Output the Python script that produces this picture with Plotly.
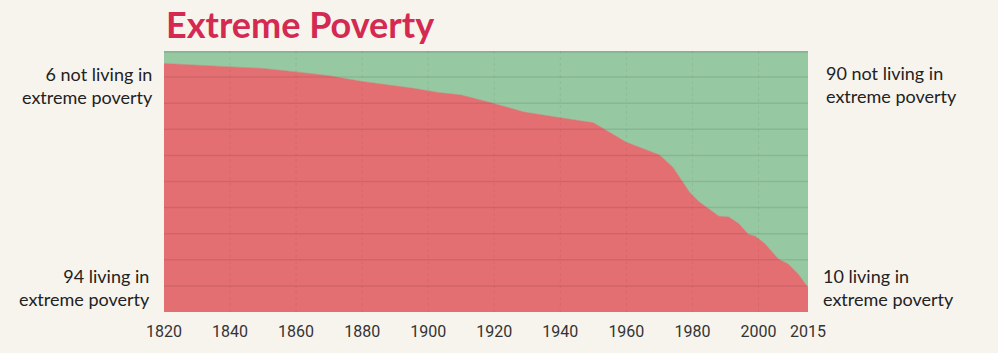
import plotly.graph_objects as go

# Share of world population living in extreme poverty (%)
years = [1820, 1840, 1850, 1860, 1870, 1880, 1896, 1903, 1910, 1919, 1929, 1939,
         1950, 1960, 1970, 1974, 1979, 1982, 1988, 1991, 1994, 1997, 1999, 2002,
         2006, 2009, 2012, 2015]
poverty = [95.2, 94.1, 93.3, 92.0, 90.5, 88.3, 85.6, 84.1, 83.1, 80.2, 76.6, 74.6,
           72.5, 65.0, 60.2, 55.6, 46.1, 42.2, 36.7, 36.4, 33.9, 29.7, 29.0, 26.1,
           20.3, 18.4, 14.6, 9.4]
not_poverty = [round(100 - v, 1) for v in poverty]

tick_years = [1820, 1840, 1860, 1880, 1900, 1920, 1940, 1960, 1980, 2000, 2015]
tick_text = [str(y) for y in tick_years]
grid_values = [10, 20, 30, 40, 50, 60, 70, 80, 90]
vgrid_years = [1840, 1860, 1880, 1900, 1920, 1940, 1960, 1980, 2000]

title_text = "Extreme Poverty"
label_top_left = "6 not living in<br>extreme poverty"
label_bottom_left = "94 living in<br>extreme poverty"
label_top_right = "90 not living in<br>extreme poverty"
label_bottom_right = "10 living in<br>extreme poverty"

RED = "#e46f72"
GREEN = "#96c8a1"
GREEN_TOP = "#86b390"
BG = "#f7f4ee"

fig = go.Figure()
fig.add_trace(go.Scatter(
    x=years, y=poverty, stackgroup="one", mode="lines",
    line=dict(width=0.5, color=RED), fillcolor=RED, hoverinfo="x+y",
    name="living in extreme poverty"))
fig.add_trace(go.Scatter(
    x=years, y=not_poverty, stackgroup="one", mode="lines",
    line=dict(width=3.5, color=GREEN_TOP), fillcolor=GREEN, hoverinfo="x+y",
    name="not living in extreme poverty"))

shapes = []
for g in grid_values:
    shapes.append(dict(type="line", xref="paper", yref="y", x0=0, x1=1, y0=g, y1=g,
                       line=dict(color="rgba(0,0,0,0.085)", width=1.5), layer="above"))
for vy in vgrid_years:
    shapes.append(dict(type="line", xref="x", yref="paper", x0=vy, x1=vy, y0=0, y1=1,
                       line=dict(color="rgba(0,0,0,0.06)", width=1, dash="dot"), layer="above"))

side_font = dict(family="Lato, 'Noto Sans', sans-serif", size=18, color="#222")
annotations = [
    dict(text=title_text, xref="paper", yref="paper", x=0, y=1.103, xanchor="left",
         yanchor="middle", showarrow=False,
         font=dict(family="Lato, 'Noto Sans', sans-serif", size=36, color="#d42a52", weight=700)),
    dict(text=label_top_left, xref="paper", yref="paper", x=0, xshift=-9, y=0.866,
         xanchor="right", yanchor="middle", align="right", showarrow=False, font=side_font),
    dict(text=label_bottom_left, xref="paper", yref="paper", x=0, xshift=-12, y=0.094,
         xanchor="right", yanchor="middle", align="right", showarrow=False, font=side_font),
    dict(text=label_top_right, xref="paper", yref="paper", x=1, xshift=16, y=0.872,
         xanchor="left", yanchor="middle", align="left", showarrow=False, font=side_font),
    dict(text=label_bottom_right, xref="paper", yref="paper", x=1, xshift=13, y=0.094,
         xanchor="left", yanchor="middle", align="left", showarrow=False, font=side_font),
]

fig.update_layout(
    width=998, height=353,
    margin=dict(l=164, r=190, t=51, b=41),
    paper_bgcolor=BG, plot_bgcolor=GREEN,
    showlegend=False,
    shapes=shapes, annotations=annotations,
    xaxis=dict(range=[1820, 2015], tickvals=tick_years, ticktext=tick_text,
               showgrid=False, zeroline=False, showline=False, ticks="",
               ticklabelstandoff=8,
               tickfont=dict(family="Roboto, sans-serif", size=16, color="#333"),
               fixedrange=True),
    yaxis=dict(range=[0, 100], showgrid=False, zeroline=False, showline=False,
               showticklabels=False, ticks="", fixedrange=True),
)

fig.write_html("out.html")
